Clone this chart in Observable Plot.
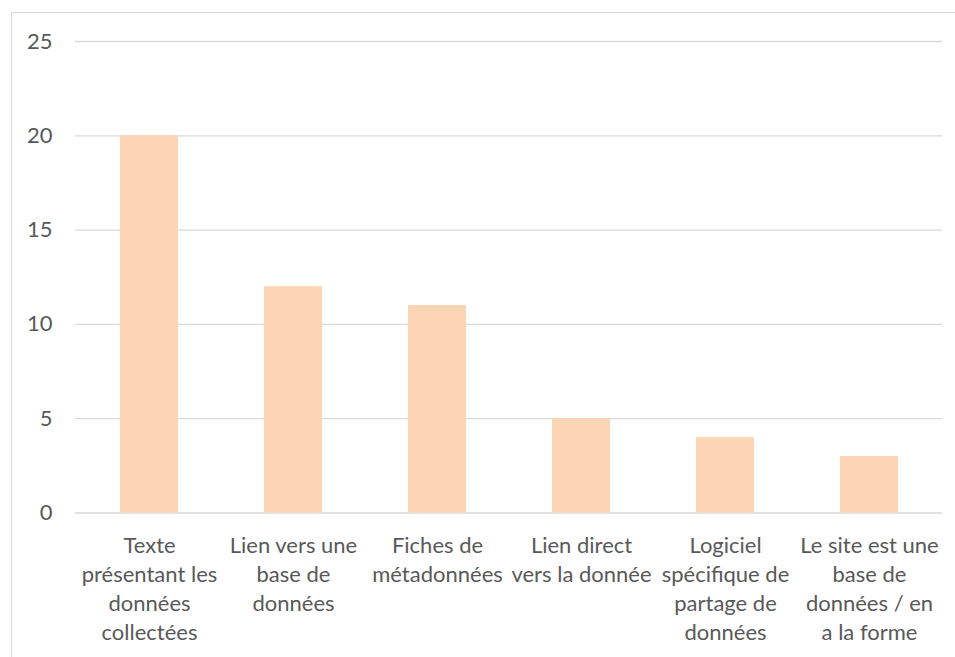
<!DOCTYPE html>
<html>
<head>
<meta charset="utf-8">
<script src="https://cdn.jsdelivr.net/npm/d3@7"></script>
<script src="https://cdn.jsdelivr.net/npm/@observablehq/plot@0.6"></script>
<style>
  html, body { margin: 0; padding: 0; background: #ffffff; }
  #wrap { position: relative; width: 955px; height: 657px; overflow: hidden; }
  #frame { position: absolute; left: 10.5px; top: 11.5px; width: 1000px; height: 700px; border: 1.3px solid #d9d9d9; box-sizing: border-box; }
  #chart { position: absolute; left: 0; top: 0; }
</style>
</head>
<body>
<div id="wrap"><div id="frame"></div><div id="chart"></div></div>
<script>
const categories = ["Texte", "Lien base", "Fiches", "Lien direct", "Logiciel", "Le site"];
const tickLabels = [
  "Texte\nprésentant les\ndonnées\ncollectées",
  "Lien vers une\nbase de\ndonnées",
  "Fiches de\nmétadonnées",
  "Lien direct\nvers la donnée",
  "Logiciel\nspécifique de\npartage de\ndonnées",
  "Le site est une\nbase de\ndonnées / en\na la forme"
];
const values = [20, 12, 11, 5, 4, 3];
const yTicks = [0, 5, 10, 15, 20, 25];

const data = categories.map((c, i) => ({category: c, value: values[i]}));
const labelOf = new Map(categories.map((c, i) => [c, tickLabels[i]]));

const chart = Plot.plot({
  width: 955,
  height: 657,
  marginLeft: 75,
  marginRight: 13,
  marginTop: 41,
  marginBottom: 144.5,
  style: {fontFamily: "Lato, sans-serif", fontSize: "22px", color: "#595959", background: "transparent", overflow: "visible"},
  x: {domain: categories, paddingInner: 0.6, paddingOuter: 0.3, axis: null},
  y: {domain: [0, 25], axis: null},
  marks: [
    Plot.gridY(yTicks, {stroke: "#d9d9d9", strokeOpacity: 1, strokeWidth: 1.3}),
    Plot.barY(data, {x: "category", y: "value", fill: "#FCD5B5"}),
    Plot.axisY(yTicks, {tickSize: 0, tickPadding: 23, fontSize: 22, fill: "#595959", label: null}),
    Plot.axisX({tickSize: 0, tickPadding: 19, lineHeight: 1.32, fontSize: 22, fill: "#595959", label: null, tickFormat: d => labelOf.get(d)})
  ]
});
document.getElementById("chart").appendChild(chart);
</script>
</body>
</html>
